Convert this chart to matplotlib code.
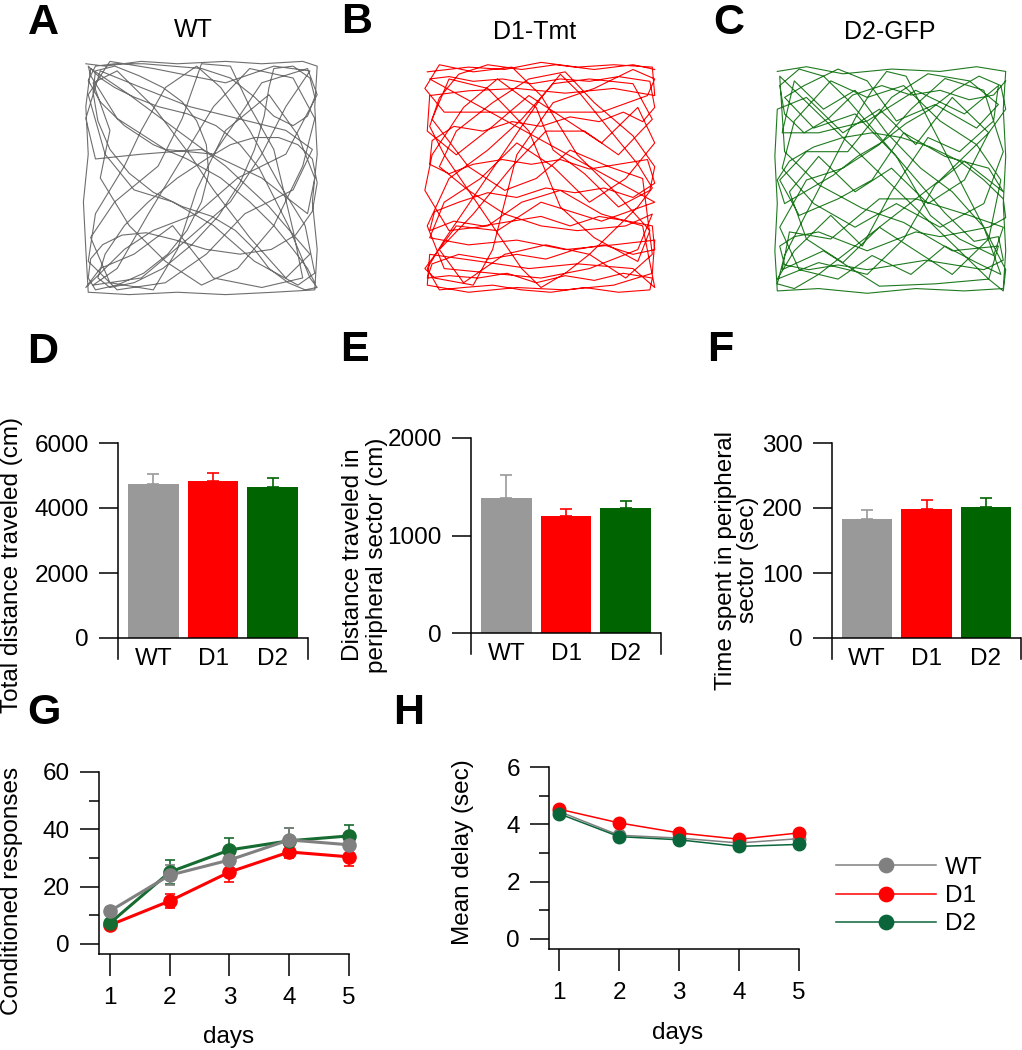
import matplotlib
matplotlib.use("Agg")
import matplotlib.pyplot as plt
import numpy as np

plt.rcParams['font.family'] = ['Liberation Sans', 'DejaVu Sans']

# ---- data ----
groups = ['WT', 'D1', 'D2']
bar_colors = ['#999999', '#ff0000', '#006400']

total_dist = [4750, 4820, 4640]
total_dist_err = [310, 250, 280]
periph_dist = [1385, 1200, 1282]
periph_dist_err = [235, 75, 70]
periph_time = [183, 198, 202]
periph_time_err = [14, 14, 14]

days = [1, 2, 3, 4, 5]
cr_wt = [11.5, 24.0, 29.3, 36.3, 34.6]
cr_wt_err = [1.5, 3.5, 3.0, 4.0, 3.2]
cr_d1 = [6.6, 15.0, 25.1, 32.1, 30.4]
cr_d1_err = [1.0, 2.5, 3.5, 2.0, 3.2]
cr_d2 = [7.3, 25.1, 32.8, 36.0, 37.7]
cr_d2_err = [1.2, 4.2, 4.0, 4.5, 3.8]

delay_wt = [4.45, 3.62, 3.52, 3.35, 3.50]
delay_d1 = [4.53, 4.05, 3.70, 3.48, 3.70]
delay_d2 = [4.37, 3.57, 3.46, 3.23, 3.30]

# open field tracks, arena coords 0-100 (rough trace of the pictures)
wt_track = [(2,98),(10,97),(25,99),(40,98),(60,99),(75,98),(92,99),(98,97),(97,80),(98,60),(96,40),(98,20),(97,3),
            (80,2),(60,1),(40,2),(20,1),(3,2),(2,20),(1,40),(3,60),(2,80),(4,96),(20,85),(40,70),(60,55),(78,38),
            (95,18),(85,8),(70,25),(55,45),(45,60),(30,80),(15,95),(5,90),(12,70),(8,50),(20,30),(35,15),(50,5),
            (65,12),(80,30),(92,55),(97,75),(88,92),(70,96),(55,80),(40,55),(28,35),(15,12),(5,5),(25,8),(45,25),
            (62,40),(75,60),(85,80),(95,95),(80,97),(60,90),(45,93),(30,96),(12,99),(3,85),(10,60),(22,45),(38,40),
            (55,30),(72,15),(90,5),(97,10),(93,30),(82,48),(70,70),(58,88),(48,97),(35,88),(25,70),(18,55),(6,35),
            (3,15),(15,3),(35,6),(52,18),(68,35),(88,45),(96,62),(85,70),(65,75),(45,80),(25,88),(8,95),(2,75),
            (6,58),(25,60),(50,62),(75,50),(94,35),(97,50),(90,68),(78,85),(60,70),(48,45),(40,20),(30,3),(12,6),
            (4,25),(14,40),(32,55),(42,75),(50,98),(62,97),(70,80),(80,62),(88,28),(92,8),(75,4),(55,8),(38,30),
            (22,18),(8,12),(2,4),(18,20),(30,28),(48,35),(65,50),(85,60),(98,85),(94,96),(75,90),(55,60),(35,62),
            (15,75),(4,93),
            (3,97),(8,92),(14,88),(22,84),(32,80),(44,77),(56,72),(66,64),(74,54),(80,42),(86,30),(91,18),(95,8),
            (98,4),(93,3),(86,6),(78,12),(72,20),(64,28),(54,34),(42,38),(30,44),(20,52),(12,62),(7,74),(5,86),
            (6,95),(14,97),(24,93),(34,88),(42,82),(48,74),(52,64),(53,52),(50,40),(44,28),(36,18),(26,10),(15,5),
            (6,3),(3,8),(4,16),(9,22),(17,26),(27,27),(39,24),(52,20),(66,18),(79,20),(89,26),(96,36),(98,48),
            (96,58),(90,64),(82,67),(72,67),(62,64),(52,58),(40,50),(28,40),(18,30),(10,18),(7,8),(12,4),(22,6),
            (34,12),(46,22),(57,34),(66,48),(72,62),(76,76),(78,88),(80,96),(88,97),(95,92),(97,84),(94,76),
            (88,72),(80,76),(72,84),(62,92),(50,96),(38,97),(26,98),(14,98),(6,97),(3,91),(8,82),(18,72),(30,64),
            (44,58),(58,50),(70,40),(80,30),(88,20),(94,12),(97,6)]
d1_track = [(3,95),(20,97),(35,96),(50,99),(65,97),(80,98),(96,97),(97,85),(80,88),(60,86),(40,88),(20,87),(4,85),
            (3,70),(15,60),(30,72),(45,85),(60,75),(75,65),(90,80),(97,65),(85,50),(70,40),(55,55),(40,65),(25,50),
            (10,40),(4,25),(20,22),(40,24),(60,20),(80,22),(97,24),(96,10),(80,5),(60,3),(40,4),(20,2),(3,5),(4,18),
            (25,15),(45,12),(65,14),(88,12),(97,4),(92,30),(75,35),(58,45),(42,40),(28,30),(12,28),(2,45),(5,60),
            (18,80),(32,92),(48,80),(55,62),(68,52),(82,38),(95,45),(97,55),(88,68),(72,82),(60,95),(45,92),(30,82),
            (15,70),(8,55),(20,45),(35,35),(50,30),(65,28),(85,30),(96,35),(90,20),(70,12),(50,8),(30,10),(10,12),
            (3,30),(12,50),(28,62),(42,75),(55,90),(70,92),(88,90),(96,75),(82,60),(68,70),(52,70),(38,55),(22,35),
            (8,20),(18,6),(35,18),(52,22),(70,18),(85,8),(96,18),(92,50),(78,55),(62,62),(48,50),(35,45),(20,55),
            (5,75),(12,92),(28,88),(45,70),(58,38),(72,25),(90,15),(95,28),(80,45),(65,60),(50,85),(38,97),(22,95),
            (8,98),(2,88),(10,78),(25,78),(50,78),(75,78),(94,85),(97,92),(88,96),(72,88),(55,82),(40,60),(30,20),
            (22,5),(6,8),(2,12),(15,30),(32,28),(50,40),(75,32),(97,40),
            (4,92),(12,93),(22,91),(34,92),(46,90),(58,92),(70,91),(82,93),(95,91),(97,80),(92,74),(84,78),(74,74),
            (62,76),(50,72),(38,74),(26,70),(14,72),(5,66),(4,56),(12,52),(22,56),(34,58),(46,56),(58,58),(70,54),
            (82,56),(94,58),(97,48),(88,42),(76,46),(64,44),(52,46),(40,42),(28,44),(16,40),(6,36),(4,28),(14,32),
            (26,30),(38,32),(50,34),(62,30),(74,34),(86,32),(96,30),(97,20),(88,18),(76,22),(64,20),(52,16),(40,18),
            (28,16),(16,18),(5,14),(3,8),(12,9),(24,8),(36,10),(48,6),(60,9),(72,7),(84,10),(96,8),(95,3),(82,2),
            (68,4),(54,2),(42,3),(30,5),(18,4),(8,3),(3,12),(10,24),(18,36),(26,48),(34,60),(42,72),(50,84),(58,94),
            (66,86),(74,76),(82,66),(90,56),(96,46),(90,38),(80,28),(70,18),(60,10),(50,4),(42,12),(34,24),(26,36),
            (18,48),(10,60),(4,72),(8,84),(16,94),(28,98),(42,96),(56,98),(72,96),(88,98),(97,96)]
d2_track = [(3,96),(15,98),(30,95),(50,97),(70,96),(85,98),(97,96),(96,80),(97,60),(96,40),(97,20),(96,4),(80,3),
            (60,4),(40,2),(20,4),(3,3),(2,20),(3,40),(2,60),(3,80),(15,85),(30,70),(45,80),(60,65),(75,85),(90,70),
            (80,50),(65,40),(50,55),(35,45),(20,60),(8,45),(15,25),(30,15),(45,30),(60,20),(75,10),(90,25),(95,50),
            (85,65),(70,75),(55,90),(40,85),(25,92),(10,75),(5,55),(18,40),(35,30),(52,40),(70,30),(88,40),(96,62),
            (88,88),(72,93),(58,80),(45,65),(30,55),(15,50),(4,30),(12,12),(28,8),(42,18),(58,10),(72,22),(85,15),
            (95,10),(88,30),(75,45),(62,55),(48,70),(35,88),(22,80),(10,92),(5,70),(20,70),(40,75),(60,88),(80,78),
            (94,90),(92,75),(78,62),(65,68),(50,45),(38,22),(25,35),(10,20),(3,8),(20,15),(40,10),(55,25),(68,48),
            (80,58),(96,45),(90,55),(72,60),(55,70),(42,50),(28,42),(12,35),(4,50),(15,62),(32,62),(50,85),(65,95),
            (82,92),(94,82),(85,72),(68,82),(52,75),(40,92),(28,97),(14,90),(6,85),(18,72),(35,78),(52,60),(66,35),
            (78,25),(92,18),(96,30),(82,35),(60,42),(45,42),(25,25),(8,28),(5,12),(22,20),(45,5),(68,6),(90,8),
            (94,22),(75,20),(55,32),(38,38),(20,48),(6,62),
            (4,94),(10,88),(18,80),(26,72),(34,64),(42,56),(50,48),(58,40),(66,32),(74,24),(82,16),(90,8),(96,3),
            (97,12),(92,22),(86,34),(80,46),(74,58),(68,70),(62,82),(56,94),(48,96),(42,88),(36,78),(30,66),(24,54),
            (18,42),(12,30),(6,18),(3,6),(10,4),(20,10),(30,18),(40,26),(50,34),(60,42),(70,50),(80,60),(90,70),
            (97,80),(95,90),(86,94),(76,88),(66,80),(56,74),(46,66),(36,60),(26,52),(16,46),(6,40),(3,50),(8,58),
            (18,64),(30,68),(42,70),(54,68),(66,64),(78,58),(88,50),(96,42),(97,34),(90,30),(80,28),(70,26),(60,28),
            (50,24),(40,20),(30,24),(20,28),(10,26),(4,22),(6,14),(16,12),(28,14),(40,12),(52,14),(64,16),(76,14),
            (88,12),(96,16),(94,26),(84,24),(72,36),(62,48),(52,60),(42,72),(32,84),(22,94),(12,97),(4,90),(6,78),
            (14,70),(24,76),(34,86),(46,90),(58,86),(70,88),(82,84),(92,86),(97,92)]

FS = 17.5
W, H = 1022, 1050
fig = plt.figure(figsize=(W / 100, H / 100), dpi=100)


def box(l, t, r, b):
    # pixel box -> figure fraction
    return [l / W, 1 - b / H, (r - l) / W, (b - t) / H]


def ftext(x, y, s, **kw):
    kw.setdefault('fontsize', FS)
    kw.setdefault('ha', 'center')
    kw.setdefault('va', 'center')
    return fig.text(x / W, 1 - y / H, s, **kw)


def track_panel(rect, pts, color):
    ax = fig.add_axes(rect)
    xs, ys = zip(*pts)
    ax.plot(xs, ys, color=color, lw=0.8)
    ax.set_xlim(0, 100)
    ax.set_ylim(0, 100)
    ax.axis('off')


def bar_panel(rect, vals, errs, top, ticks):
    ax = fig.add_axes(rect)
    pad = -top * 21 / 195
    x = np.arange(len(groups))
    ax.bar(x, vals, width=0.85, color=bar_colors, zorder=2)
    for xi, v, e, c in zip(x, vals, errs, bar_colors):
        ax.errorbar(xi, v, yerr=[[0], [e]], color=c, capsize=4.5, elinewidth=1.2, capthick=1.2, zorder=1)
    xr = 2.59
    ax.set_xlim(-0.59, xr)
    ax.set_ylim(pad, top)
    for s in ['top', 'right', 'bottom']:
        ax.spines[s].set_visible(False)
    ax.spines['left'].set_linewidth(1.1)
    ax.set_yticks(ticks)
    ax.tick_params(axis='y', length=14, width=1.1, labelsize=FS, pad=7)
    ax.set_xticks([])
    ax.axhline(0, color='k', lw=1.1)
    ax.plot([xr, xr], [0, pad], color='k', lw=1.1, clip_on=False)
    for xi, g in zip(x, groups):
        ax.text(xi, 0.0, g, transform=ax.get_xaxis_transform(), ha='center', va='center', fontsize=FS)
    return ax


def line_axes(rect, x0, ylim, yticks, minor):
    ax = fig.add_axes(rect)
    ax.set_xlim(x0, 5.0)
    ax.set_ylim(*ylim)
    for s in ['top', 'right']:
        ax.spines[s].set_visible(False)
    for s in ['left', 'bottom']:
        ax.spines[s].set_linewidth(1.1)
    ax.set_xticks(days)
    ax.set_yticks(yticks)
    ax.set_yticks(minor, minor=True)
    ax.tick_params(axis='y', which='major', length=14, width=1.1, labelsize=FS, pad=7)
    ax.tick_params(axis='y', which='minor', length=7, width=1.1)
    ax.tick_params(axis='x', length=16, width=1.1, labelsize=FS, pad=8)
    return ax


# ---- A-C tracks ----
track_panel(box(81, 59, 322, 297), wt_track, '#6e6e6e')
track_panel(box(420, 60, 662, 297), d1_track, '#ff0000')
track_panel(box(770, 62, 1013, 298), d2_track, '#1f7a1f')
ftext(193, 30, 'WT', fontsize=18)
ftext(535, 32, 'D1-Tmt', fontsize=18)
ftext(890, 32, 'D2-GFP', fontsize=18)

# ---- D-F bars ----
bar_panel(box(118, 443, 308, 659), total_dist, total_dist_err, 6000, [0, 2000, 4000, 6000])
bar_panel(box(471, 438, 661, 654), periph_dist, periph_dist_err, 2000, [0, 1000, 2000])
bar_panel(box(832, 443, 1021, 659), periph_time, periph_time_err, 300, [0, 100, 200, 300])
ftext(12, 565, 'Total distance traveled (cm)', rotation=90)
ftext(365, 555, 'Distance traveled in\nperipheral sector (cm)', rotation=90, linespacing=1.1)
ftext(737, 560, 'Time spent in peripheral\nsector (sec)', rotation=90, linespacing=1.0)

# ---- G ----
axg = line_axes(box(99, 772, 349, 954), 0.816, (-3.5, 60), [0, 20, 40, 60], [10, 30, 50])
for vals, errs, c in [(cr_d1, cr_d1_err, '#ff0000'), (cr_d2, cr_d2_err, '#166b30'), (cr_wt, cr_wt_err, '#808080')]:
    axg.errorbar(days, vals, yerr=errs, color=c, marker='o', ms=9.5, lw=2.2, capsize=3.5,
                 elinewidth=1.2, capthick=1.2, clip_on=False)
ftext(12, 891, 'Conditioned responses', rotation=90)
ftext(229, 1037, 'days')

# ---- H ----
axh = line_axes(box(549, 767, 799, 949), 0.833, (-0.35, 6), [0, 2, 4, 6], [1, 3, 5])
handles = []
for vals, c, lab in [(delay_wt, '#808080', 'WT'), (delay_d1, '#ff0000', 'D1'), (delay_d2, '#0a663a', 'D2')]:
    ln, = axh.plot(days, vals, color=c, marker='o', ms=9, lw=1.1, clip_on=False, label=lab)
    handles.append(ln)
ftext(463, 852, 'Mean delay (sec)', rotation=90)
ftext(678, 1033, 'days')
fig.legend(handles=handles, loc='center left', bbox_to_anchor=(836 / W, 1 - 896 / H), frameon=False,
           fontsize=FS, handlelength=4.1, handletextpad=0.4, labelspacing=0.25, borderpad=0,
           borderaxespad=0, markerscale=1.15)

# ---- panel letters ----
for lab, x, y in [('A', 43, 23), ('B', 357, 22), ('C', 729, 23), ('D', 43, 352), ('E', 354, 350),
                  ('F', 720, 350), ('G', 44, 713), ('H', 409, 713)]:
    ftext(x, y, lab, fontsize=31, fontweight='bold')

fig.savefig('out.png', dpi=100)
